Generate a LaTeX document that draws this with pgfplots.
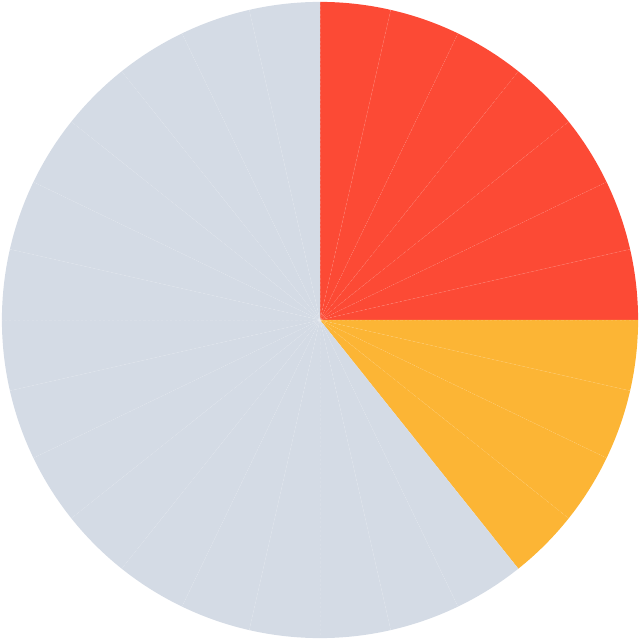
\documentclass[border=0pt]{standalone}
\usepackage{pgfplots}
\usepackage{pgfplotstable}
\pgfplotsset{compat=1.18}

\definecolor{pieRed}{HTML}{FC4A35}
\definecolor{pieAmber}{HTML}{FCB535}
\definecolor{pieGrey}{HTML}{D4DBE5}

% one row per slice, clockwise from 12 o'clock
\pgfplotstableread{
share colour
1 pieRed
1 pieRed
1 pieRed
1 pieRed
1 pieRed
1 pieRed
1 pieRed
1 pieAmber
1 pieAmber
1 pieAmber
1 pieAmber
1 pieGrey
1 pieGrey
1 pieGrey
1 pieGrey
1 pieGrey
1 pieGrey
1 pieGrey
1 pieGrey
1 pieGrey
1 pieGrey
1 pieGrey
1 pieGrey
1 pieGrey
1 pieGrey
1 pieGrey
1 pieGrey
1 pieGrey
}\piedata

\begin{document}
\begin{tikzpicture}
\begin{axis}[hide axis, x=3cm, y=3cm,
    xmin=-1.006, xmax=1.006, ymin=-1.006, ymax=1.006, clip=false]
  \path (axis cs:-1.006,-1.006) rectangle (axis cs:1.006,1.006);
  \pgfplotstablegetrowsof{\piedata}
  \pgfmathtruncatemacro\nrows{\pgfplotsretval-1}
  % total of all shares
  \def\total{0}
  \pgfplotsforeachungrouped \i in {0,...,\nrows}{
    \pgfplotstablegetelem{\i}{share}\of\piedata
    \pgfmathsetmacro\total{\total+\pgfplotsretval}
  }
  \def\cum{0}
  \pgfplotsforeachungrouped \i in {0,...,\nrows}{
    \pgfplotstablegetelem{\i}{share}\of\piedata \let\share\pgfplotsretval
    \pgfplotstablegetelem{\i}{colour}\of\piedata \let\col\pgfplotsretval
    \pgfmathsetmacro\aA{90-360*\cum/\total}
    \pgfmathsetmacro\cum{\cum+\share}
    \pgfmathsetmacro\aB{90-360*\cum/\total}
    \edef\doslice{\noexpand\fill[\col] (axis cs:0,0) -- (axis cs:{cos(\aA)},{sin(\aA)})
      arc[start angle=\aA, end angle=\aB, radius=3cm] -- cycle;}
    \doslice
  }
  % faint dotted slice borders
  \def\cum{0}
  \pgfplotsforeachungrouped \i in {0,...,\nrows}{
    \pgfplotstablegetelem{\i}{share}\of\piedata
    \pgfmathsetmacro\aA{90-360*\cum/\total}
    \pgfmathsetmacro\cum{\cum+\pgfplotsretval}
    \edef\doline{\noexpand\draw[white, draw opacity=0.1, line width=0.2pt,
      dash pattern=on 0.6pt off 0.6pt] (axis cs:0,0) -- (axis cs:{cos(\aA)},{sin(\aA)});}
    \doline
  }
\end{axis}
\end{tikzpicture}
\end{document}
